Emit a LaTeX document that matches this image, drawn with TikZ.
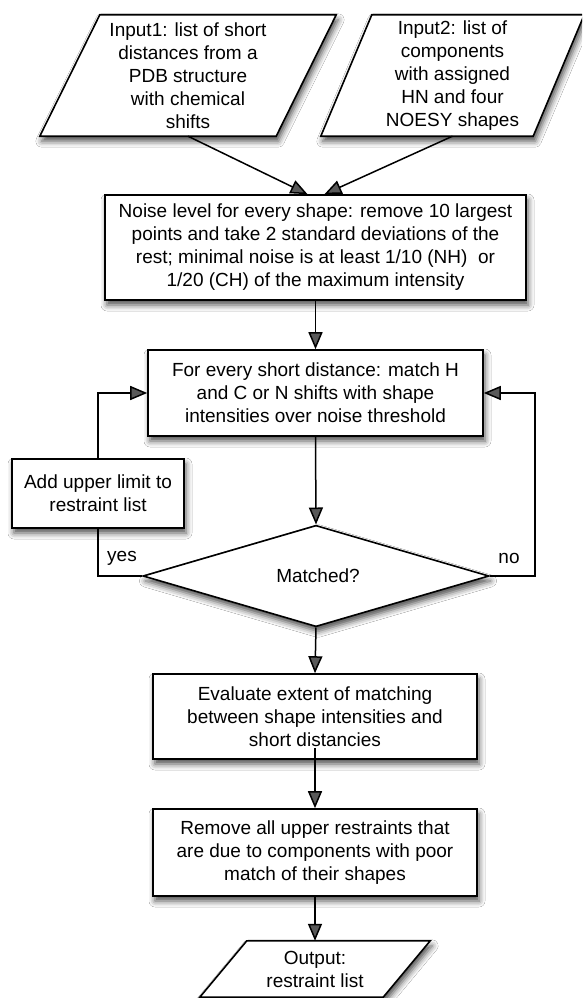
\documentclass[tikz,border=0pt]{standalone}
\usepackage{fontspec}
\setmainfont{Liberation Sans}
\usetikzlibrary{arrows.meta,shapes.geometric,shadows.blur}
\begin{document}
\begin{tikzpicture}[x=1pt,y=-1pt,
  txt/.style={font=\fontsize{19}{23}\selectfont, align=center, inner sep=0pt},
  boxshadow/.style={blur shadow={shadow xshift=2pt, shadow yshift=-5pt, shadow blur radius=6pt, shadow opacity=70}},
  procbox/.style={txt, draw, line width=1.6pt, fill=white, boxshadow},
  para/.style={line width=1.6pt, fill=white, boxshadow},
  conn/.style={line width=1.5pt},
  arr/.style={conn, -{Triangle[length=17pt,width=14pt]}},
  lbl/.style={font=\fontsize{19}{23}\selectfont, inner sep=0pt}
]
\clip (0,0) rectangle (582,998);
\fill[white] (0,0) rectangle (582,998);

% inputs (text holders)
\node[txt, minimum width=296pt, minimum height=121pt] (in1) at (188,75.5) {};
\node[txt, minimum width=263pt, minimum height=121pt] (in2) at (452.5,75.5) {};
\draw[para] ([xshift=60pt]in1.north west) -- (in1.north east) -- ([xshift=-60pt]in1.south east) -- (in1.south west) -- cycle;
\draw[para] ([xshift=51pt]in2.north west) -- (in2.north east) -- ([xshift=-51pt]in2.south east) -- (in2.south west) -- cycle;
\node[txt] at (in1) {Input1: list of short\\distances from a\\PDB structure\\with chemical\\shifts};
\node[txt] at (in2) {Input2: list of\\components\\with assigned\\HN and four\\NOESY shapes};

% process boxes
\node[procbox, minimum width=421pt, minimum height=105pt] (noise) at (315.5,247.5)
  {Noise level for every shape: remove 10 largest\\points and take 2 standard deviations of the\\rest; minimal noise is at least 1/10 (NH)\ \ or\\1/20 (CH) of the maximum intensity};
\node[procbox, minimum width=335pt, minimum height=86pt] (match) at (315.5,393)
  {For every short distance: match H\\and C or N shifts with shape\\intensities over noise threshold};
\node[procbox, minimum width=172pt, minimum height=69pt] (add) at (98,493.5)
  {Add upper limit to\\restraint list};
\node[txt, shape=diamond, draw, line width=1.6pt, fill=white, boxshadow, minimum width=346pt, minimum height=94pt] (dia) at (316,576) {\hspace*{4pt}Matched?};
\node[procbox, minimum width=324pt, minimum height=85pt] (eval) at (315,716.5)
  {Evaluate extent of matching\\between shape intensities and\\short distancies};
\node[procbox, minimum width=324pt, minimum height=87pt] (remove) at (315,852.5)
  {Remove all upper restraints that\\are due to components with poor\\match of their shapes};

% output
\node[txt, minimum width=230pt, minimum height=56pt] (out) at (315,969) {};
\draw[para] ([xshift=47pt]out.north west) -- (out.north east) -- ([xshift=-47pt]out.south east) -- (out.south west) -- cycle;
\node[txt] at (out) {Output:\\restraint list};

% connectors
\draw[arr] (in1.south) -- ([xshift=-8pt]noise.north);
\draw[arr] (in2.south) -- ([xshift=9pt]noise.north);
\draw[arr] (noise.south) -- (match.north);
\draw[arr] (match.south) -- (dia.north);
\draw[arr] (add.north) |- (match.west);
\draw[conn] (dia.west) -| (add.south);
\coordinate (nocorner) at (535,576);
\draw[arr] (dia.east) -- (nocorner) |- (match.east);
\draw[arr] (dia.south) -- (eval.north);
\draw[arr] ([yshift=12pt]eval.south) -- (remove.north);
\draw[arr] (remove.south) -- (out.north);

% labels
\node[lbl] (yes) at (122,558) {yes};
\node[lbl] (no) at (509,558) {no};
\end{tikzpicture}
\end{document}
